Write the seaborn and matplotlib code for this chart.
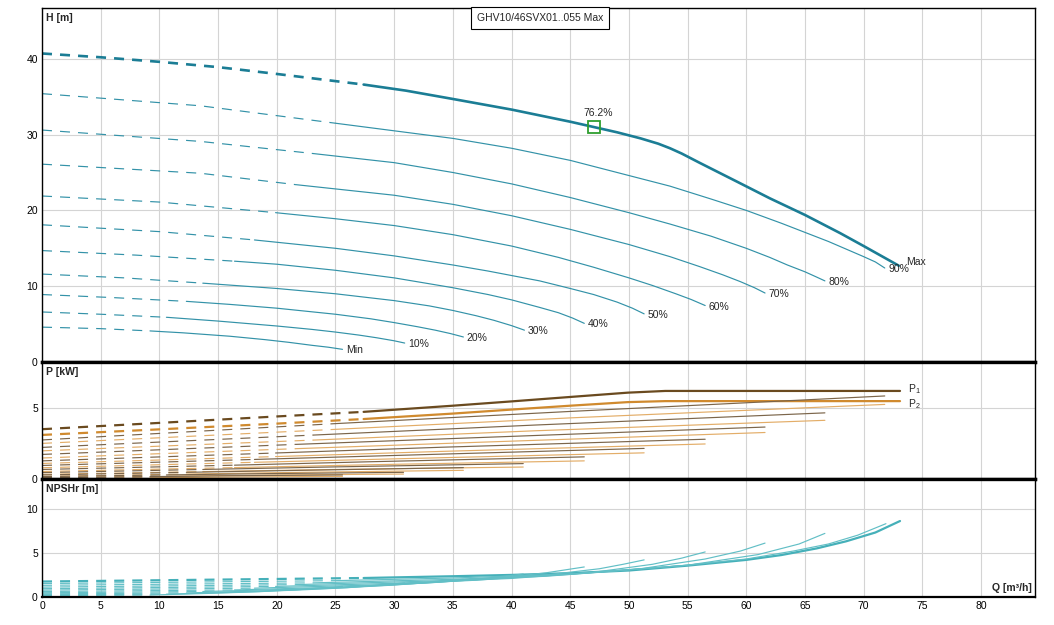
import matplotlib
matplotlib.use("Agg")
import matplotlib.pyplot as plt
import numpy as np
import seaborn as sns

# ---- curve labels and where each curve stops being dashed (Q in m3/h)
SPEEDS = ["Max", "90%", "80%", "70%", "60%", "50%", "40%", "30%", "20%", "10%", "Min"]
DASH_END = [27.4, 25.0, 23.1, 21.6, 19.9, 18.1, 16.4, 13.7, 12.3, 10.6, 9.2]

# ---- head curves H [m]
h_max_q = [0, 5, 10, 15, 20, 27.4, 31, 35, 40, 45, 47, 49, 51, 52.5, 53.5, 54.5, 56, 59.2, 62, 65, 68, 70, 73]
h_max = [40.7, 40.2, 39.6, 38.9, 38.0, 36.6, 35.8, 34.7, 33.3, 31.7, 31.0, 30.3, 29.5, 28.8, 28.2, 27.5,
         26.3, 23.8, 21.6, 19.4, 17.0, 15.3, 12.7]
h_90_q = [0, 13.5, 25, 30, 35, 40, 45, 50, 53.5, 57, 60, 63, 65, 67, 68.5, 70, 71, 71.8]
h_90 = [35.4, 33.8, 31.5, 30.5, 29.5, 28.2, 26.6, 24.6, 23.2, 21.5, 20.0, 18.3, 17.1, 15.9, 14.9, 13.9, 13.2, 12.4]
h_80_q = [0, 13.5, 23.1, 30, 35, 40, 45, 50, 53.5, 57, 60, 62, 63.5, 65, 66, 66.7]
h_80 = [30.6, 29.1, 27.5, 26.3, 25.0, 23.5, 21.7, 19.7, 18.2, 16.6, 15.0, 13.8, 12.8, 11.9, 11.2, 10.7]
h_70_q = [0, 13.5, 21.6, 30, 35, 40, 45, 50, 53.5, 56, 58, 59.5, 60.7, 61.6]
h_70 = [26.1, 24.9, 23.4, 22.0, 20.8, 19.3, 17.5, 15.5, 13.9, 12.6, 11.5, 10.6, 9.8, 9.1]
h_60_q = [0, 10, 19.9, 25, 30, 35, 40, 44, 47, 50, 52, 54, 55.3, 56.5]
h_60 = [21.9, 21.1, 19.7, 18.9, 18.0, 16.8, 15.3, 13.8, 12.5, 11.1, 10.1, 9.0, 8.25, 7.45]
h_50_q = [0, 10, 18.1, 25, 30, 35, 38, 42.4, 45, 47, 49, 50.3, 51.3]
h_50 = [18.1, 17.2, 16.1, 15.0, 14.0, 12.8, 12.0, 10.7, 9.7, 8.9, 7.9, 7.1, 6.35]
h_40_q = [0, 8, 16.4, 20, 25, 30, 35, 38, 40, 42.4, 44, 45.2, 46.2]
h_40 = [14.7, 14.1, 13.3, 12.9, 12.1, 11.1, 9.8, 8.9, 8.2, 7.2, 6.5, 5.8, 5.1]
h_30_q = [0, 7, 13.7, 20, 25, 30, 33, 35, 37, 38.5, 40, 41.1]
h_30 = [11.6, 11.1, 10.4, 9.7, 9.0, 8.1, 7.4, 6.8, 6.1, 5.5, 4.8, 4.2]
h_20_q = [0, 6, 12.3, 16, 20, 25, 28, 30, 32, 33.5, 34.8, 35.9]
h_20 = [8.9, 8.5, 8.0, 7.6, 7.1, 6.3, 5.7, 5.2, 4.65, 4.2, 3.75, 3.3]
h_10_q = [0, 5, 10.6, 15, 20, 23, 25, 27, 28.5, 30, 30.9]
h_10 = [6.6, 6.3, 5.9, 5.4, 4.75, 4.3, 3.95, 3.55, 3.2, 2.8, 2.5]
h_min_q = [0, 5, 9.2, 12, 16, 19, 21, 23, 24.4, 25.6]
h_min = [4.6, 4.4, 4.1, 3.85, 3.4, 2.95, 2.6, 2.2, 1.95, 1.67]

# ---- power curves P1 / P2 [kW]
p_max_q = [0, 10, 20, 27.4, 35, 40, 45, 49.9, 53.1, 73.1]
p1_max = [3.51, 3.95, 4.4, 4.72, 5.15, 5.45, 5.76, 6.06, 6.18, 6.18]
p2_max = [3.11, 3.5, 3.9, 4.22, 4.6, 4.88, 5.15, 5.4, 5.47, 5.47]
p_90_q = [0, 25, 45, 71.8]
p1_90 = [2.76, 3.9, 4.75, 5.83]
p2_90 = [2.52, 3.5, 4.3, 5.24]
p_80_q = [0, 23.1, 42, 66.7]
p1_80 = [2.24, 3.1, 3.8, 4.65]
p2_80 = [2.0, 2.75, 3.4, 4.13]
p_70_q = [0, 21.6, 38, 61.6]
p1_70 = [1.75, 2.45, 2.95, 3.66]
p2_70 = [1.5, 2.15, 2.62, 3.28]
p_60_q = [0, 19.9, 34, 56.5]
p1_60 = [1.3, 1.85, 2.25, 2.81]
p2_60 = [1.12, 1.6, 1.96, 2.48]
p_50_q = [0, 18.1, 31, 51.3]
p1_50 = [0.98, 1.4, 1.7, 2.17]
p2_50 = [0.82, 1.2, 1.46, 1.86]
p_40_q = [0, 16.4, 28, 46.2]
p1_40 = [0.7, 1.0, 1.24, 1.58]
p2_40 = [0.56, 0.83, 1.03, 1.30]
p_30_q = [0, 13.7, 25, 41.0]
p1_30 = [0.48, 0.7, 0.88, 1.11]
p2_30 = [0.36, 0.55, 0.7, 0.87]
p_20_q = [0, 12.3, 22, 35.9]
p1_20 = [0.32, 0.5, 0.64, 0.83]
p2_20 = [0.22, 0.38, 0.5, 0.64]
p_10_q = [0, 10.6, 19, 30.8]
p1_10 = [0.2, 0.32, 0.41, 0.5]
p2_10 = [0.12, 0.23, 0.31, 0.38]
p_min_q = [0, 9.2, 16, 25.6]
p1_min = [0.12, 0.2, 0.26, 0.32]
p2_min = [0.06, 0.12, 0.17, 0.22]

# ---- NPSHr curves [m]
n_max_q = [0, 27.4, 35, 40, 45, 50, 55, 60, 63, 66, 68.5, 71, 73.1]
n_max = [1.75, 2.15, 2.35, 2.5, 2.7, 3.0, 3.55, 4.2, 4.75, 5.5, 6.3, 7.3, 8.6]
n_90_q = [0, 25, 35, 45, 55, 60, 64, 67, 69.5, 71.9]
n_90 = [1.52, 1.85, 2.15, 2.6, 3.6, 4.3, 5.2, 6.0, 7.0, 8.3]
n_80_q = [0, 23.1, 35, 45, 55, 61, 64.5, 66.7]
n_80 = [1.32, 1.6, 2.0, 2.55, 3.6, 4.8, 6.0, 7.2]
n_70_q = [0, 21.6, 33, 43, 51, 56.5, 59.5, 61.6]
n_70 = [1.12, 1.4, 1.8, 2.35, 3.2, 4.3, 5.2, 6.1]
n_60_q = [0, 19.9, 30, 40, 47, 52, 54.5, 56.5]
n_60 = [0.94, 1.2, 1.55, 2.1, 2.8, 3.7, 4.4, 5.1]
n_50_q = [0, 18.1, 28, 37, 43, 47.5, 49.5, 51.3]
n_50 = [0.78, 1.0, 1.35, 1.9, 2.5, 3.2, 3.7, 4.2]
n_40_q = [0, 16.4, 25, 33, 39, 43, 46.2]
n_40 = [0.62, 0.8, 1.1, 1.6, 2.15, 2.75, 3.4]
n_30_q = [0, 13.7, 22, 29, 34, 38, 41.0]
n_30 = [0.48, 0.62, 0.9, 1.3, 1.7, 2.15, 2.6]
n_20_q = [0, 12.3, 19, 25, 30, 33.5, 35.9]
n_20 = [0.36, 0.46, 0.7, 1.0, 1.35, 1.7, 2.0]
n_10_q = [0, 10.6, 17, 22, 26, 29, 30.9]
n_10 = [0.26, 0.32, 0.55, 0.8, 1.05, 1.35, 1.6]
n_min_q = [0, 9.2, 14, 18.5, 22, 24.2, 25.6]
n_min = [0.16, 0.22, 0.4, 0.6, 0.85, 1.05, 1.2]

# best efficiency point on the Max curve
bep_q, bep_h, bep_label = 47.0, 31.05, "76.2%"
TITLE = "GHV10/46SVX01..055 Max"

H_CURVES = [(h_max_q, h_max), (h_90_q, h_90), (h_80_q, h_80), (h_70_q, h_70),
            (h_60_q, h_60), (h_50_q, h_50), (h_40_q, h_40), (h_30_q, h_30),
            (h_20_q, h_20), (h_10_q, h_10), (h_min_q, h_min)]
P_CURVES = [(p_max_q, p1_max, p2_max), (p_90_q, p1_90, p2_90), (p_80_q, p1_80, p2_80),
            (p_70_q, p1_70, p2_70), (p_60_q, p1_60, p2_60), (p_50_q, p1_50, p2_50),
            (p_40_q, p1_40, p2_40), (p_30_q, p1_30, p2_30), (p_20_q, p1_20, p2_20),
            (p_10_q, p1_10, p2_10), (p_min_q, p1_min, p2_min)]
N_CURVES = [(n_max_q, n_max), (n_90_q, n_90), (n_80_q, n_80), (n_70_q, n_70),
            (n_60_q, n_60), (n_50_q, n_50), (n_40_q, n_40), (n_30_q, n_30),
            (n_20_q, n_20), (n_10_q, n_10), (n_min_q, n_min)]

DASH = (0, (7.2, 5.8))
H_COL, H_COL_MAX = "#3392a8", "#1b7d95"
P1_COL, P1_COL_MAX = "#7b654a", "#6a4a1f"
P2_COL, P2_COL_MAX = "#e3ad68", "#d08a2e"
N_COL, N_COL_MAX = "#62bfc6", "#45b0b9"
GRID = "#d4d4d4"
FS = 7.5

sns.set_theme(style="white")
plt.rcParams["font.family"] = ["Liberation Sans", "DejaVu Sans"]
plt.rcParams["lines.scale_dashes"] = False
plt.rcParams["mathtext.default"] = "regular"


def draw_curve(ax, q, v, q_dash, color, lw):
    q = np.asarray(q, dtype=float)
    v = np.asarray(v, dtype=float)
    dashed = q <= q_dash + 1e-9
    solid = q >= q_dash - 1e-9
    sns.lineplot(x=q[dashed], y=v[dashed], ax=ax, color=color, linewidth=lw,
                 linestyle=DASH, estimator=None, sort=False, errorbar=None)
    sns.lineplot(x=q[solid], y=v[solid], ax=ax, color=color, linewidth=lw,
                 linestyle="-", estimator=None, sort=False, errorbar=None)


fig = plt.figure(figsize=(10.54, 6.25), dpi=100)
gs = fig.add_gridspec(3, 1, height_ratios=[354, 117.5, 117.5], hspace=0,
                      left=42 / 1054, right=1035 / 1054,
                      top=1 - 8 / 625, bottom=1 - 597 / 625)
ax_h = fig.add_subplot(gs[0])
ax_p = fig.add_subplot(gs[1], sharex=ax_h)
ax_n = fig.add_subplot(gs[2], sharex=ax_h)

# head panel
for i, (q, h) in enumerate(H_CURVES):
    is_max = i == 0
    draw_curve(ax_h, q, h, DASH_END[i], H_COL_MAX if is_max else H_COL, 1.9 if is_max else 0.85)
    dx, dy = (0.6, 0.45) if is_max else (0.3, -0.15)
    ax_h.text(q[-1] + dx, h[-1] + dy, SPEEDS[i], fontsize=FS, ha="left", va="center")

ax_h.plot([bep_q], [bep_h], marker="s", markersize=8, markerfacecolor="none",
          markeredgecolor="#2e9e2e", markeredgewidth=1.3, linestyle="none", zorder=5)
ax_h.text(bep_q + 0.4, bep_h + 1.2, bep_label, fontsize=FS, ha="center", va="bottom")
ax_h.text(0.5015, 0.972, TITLE, transform=ax_h.transAxes, fontsize=FS, ha="center",
          va="center", bbox=dict(boxstyle="square,pad=0.55", fc="white", ec="black", lw=0.8),
          zorder=6)

# power panel
for i, (q, p1, p2) in enumerate(P_CURVES):
    is_max = i == 0
    draw_curve(ax_p, q, p2, DASH_END[i], P2_COL_MAX if is_max else P2_COL, 1.6 if is_max else 0.85)
    draw_curve(ax_p, q, p1, DASH_END[i], P1_COL_MAX if is_max else P1_COL, 1.6 if is_max else 0.85)
ax_p.text(p_max_q[-1] + 0.7, p1_max[-1] + 0.15, "P$_1$", fontsize=FS, ha="left", va="center")
ax_p.text(p_max_q[-1] + 0.7, p2_max[-1] - 0.2, "P$_2$", fontsize=FS, ha="left", va="center")

# NPSH panel
for i, (q, n) in enumerate(N_CURVES):
    is_max = i == 0
    draw_curve(ax_n, q, n, DASH_END[i], N_COL_MAX if is_max else N_COL, 1.6 if is_max else 0.85)

# axes styling
limits = [(ax_h, 46.7, [0, 10, 20, 30, 40], "H [m]"),
          (ax_p, 8.2, [0, 5], "P [kW]"),
          (ax_n, 13.3, [0, 5, 10], "NPSHr [m]")]
for ax, ymax, yt, name in limits:
    ax.set_xlim(0, 84.6)
    ax.set_ylim(0, ymax)
    ax.set_xticks(np.arange(0, 81, 5))
    ax.set_yticks(yt)
    ax.grid(True, color=GRID, linewidth=0.8)
    ax.set_axisbelow(True)
    ax.set_xlabel("")
    ax.set_ylabel("")
    ax.tick_params(length=0, pad=3, labelsize=FS, colors="black")
    for s in ax.spines.values():
        s.set_color("black")
        s.set_linewidth(1.0)
    ax.text(0.004, 0.985 if ax is ax_h else 0.96, name, transform=ax.transAxes,
            fontsize=FS, fontweight="bold", ha="left", va="top")

ax_h.tick_params(labelbottom=False)
ax_p.tick_params(labelbottom=False)
ax_h.spines["bottom"].set_linewidth(2.4)
ax_p.spines["top"].set_linewidth(2.4)
ax_p.spines["bottom"].set_linewidth(2.4)
ax_n.spines["top"].set_linewidth(2.4)
ax_n.spines["bottom"].set_linewidth(1.6)
ax_n.text(0.997, 0.03, "Q [m³/h]", transform=ax_n.transAxes, fontsize=FS,
          fontweight="bold", ha="right", va="bottom")

fig.savefig("out.png", dpi=100, facecolor="white")
